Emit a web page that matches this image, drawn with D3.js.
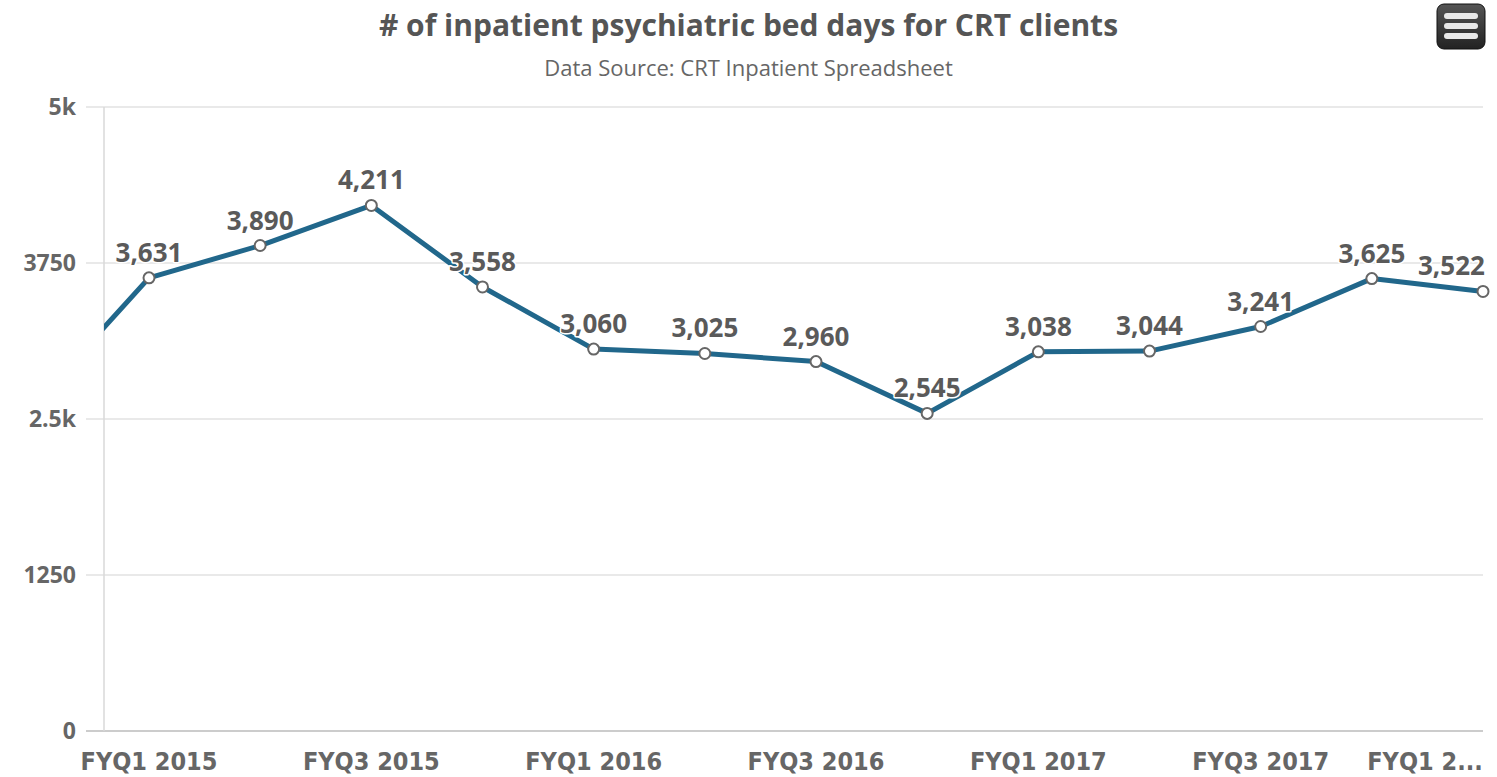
<!DOCTYPE html>
<html>
<head>
<meta charset="utf-8">
<script src="https://cdn.jsdelivr.net/npm/d3@7/dist/d3.min.js"></script>
<style>
  body { margin: 0; background: #fff; }
  .title { font-family: "Open Sans", sans-serif; font-weight: bold; fill: #555; }
  .subtitle { font-family: "Open Sans", sans-serif; fill: #666; }
  .ylab { font-family: "Open Sans", sans-serif; font-weight: bold; fill: #666; font-size: 23px; }
  .xlab { font-family: "Liberation Sans Narrow", "DejaVu Sans Condensed", sans-serif; font-weight: bold; fill: #666; font-size: 25px; }
  .dlabel { font-family: "Open Sans", sans-serif; font-weight: bold; fill: #5a5a5a; font-size: 26px;
            stroke: #fff; stroke-width: 3px; paint-order: stroke; stroke-linejoin: round; }
</style>
</head>
<body>
<div id="chart"></div>
<script>
// quarters; the first one sits left of the visible range (axis min cuts it off)
const quarters = ['FYQ4 2014', 'FYQ1 2015', 'FYQ2 2015', 'FYQ3 2015', 'FYQ4 2015',
  'FYQ1 2016', 'FYQ2 2016', 'FYQ3 2016', 'FYQ4 2016',
  'FYQ1 2017', 'FYQ2 2017', 'FYQ3 2017', 'FYQ4 2017', 'FYQ1 2018'];
const bedDays = [2650, 3631, 3890, 4211, 3558, 3060, 3025, 2960, 2545, 3038, 3044, 3241, 3625, 3522];
const yTicks = [0, 1250, 2500, 3750, 5000];
const yTickLabels = ['0', '1250', '2.5k', '3750', '5k'];

const width = 1497, height = 777;
const plotLeft = 104, plotRight = 1483, plotTop = 107, plotBottom = 731;

const x = d3.scaleLinear().domain([1, quarters.length - 1]).range([149, plotRight]);
const y = d3.scaleLinear().domain([0, 5000]).range([plotBottom, plotTop]);

const svg = d3.select("#chart").append("svg")
  .attr("width", width).attr("height", height);

svg.append("text").attr("class", "title")
  .attr("x", width / 2).attr("y", 36).attr("text-anchor", "middle")
  .style("font-size", "30px")
  .text("# of inpatient psychiatric bed days for CRT clients");

svg.append("text").attr("class", "subtitle")
  .attr("x", width / 2).attr("y", 76).attr("text-anchor", "middle")
  .style("font-size", "22px")
  .text("Data Source: CRT Inpatient Spreadsheet");

// gridlines
svg.append("g").selectAll("line")
  .data(yTicks).enter().append("line")
  .attr("x1", 86).attr("x2", plotRight)
  .attr("y1", d => y(d)).attr("y2", d => y(d))
  .attr("stroke", d => d === 0 ? "#ccc" : "#e2e2e2")
  .attr("stroke-width", d => d === 0 ? 2 : 1.5);

svg.append("line")
  .attr("x1", plotLeft).attr("x2", plotLeft).attr("y1", plotTop).attr("y2", plotBottom)
  .attr("stroke", "#d8d8d8").attr("stroke-width", 1.5);

svg.append("g").selectAll("text")
  .data(yTicks).enter().append("text")
  .attr("class", "ylab")
  .attr("x", 76).attr("y", d => y(d) + 8)
  .attr("text-anchor", "end")
  .text((d, i) => yTickLabels[i]);

// x labels, every second quarter
const shown = quarters.map((q, i) => i).filter(i => i % 2 === 1);
svg.append("g").selectAll("text")
  .data(shown).enter().append("text")
  .attr("class", "xlab")
  .attr("x", i => i === quarters.length - 1 ? 1425 : x(i))
  .attr("y", 770)
  .attr("text-anchor", "middle")
  .text(i => i === quarters.length - 1 ? quarters[i].slice(0, 6) + "..." : quarters[i]);

svg.append("clipPath").attr("id", "plot")
  .append("rect").attr("x", plotLeft).attr("y", 0).attr("width", width - plotLeft).attr("height", height);

const g = svg.append("g").attr("clip-path", "url(#plot)");

const line = d3.line().x((d, i) => x(i)).y(d => y(d));
g.append("path").datum(bedDays)
  .attr("d", line)
  .attr("fill", "none")
  .attr("stroke", "#21678b")
  .attr("stroke-width", 5)
  .attr("stroke-linejoin", "round");

g.selectAll("circle")
  .data(bedDays).enter().append("circle")
  .attr("cx", (d, i) => x(i)).attr("cy", d => y(d))
  .attr("r", 5.5)
  .attr("fill", "#fff").attr("stroke", "#666").attr("stroke-width", 2);

const fmt = d3.format(",");
const labels = svg.append("g").selectAll("text")
  .data(bedDays.map((v, i) => [i, v]).filter(d => d[0] > 0))
  .enter().append("text")
  .attr("class", "dlabel")
  .attr("x", d => x(d[0])).attr("y", d => y(d[1]) - 16)
  .attr("text-anchor", "middle")
  .text(d => fmt(d[1]));

// keep labels inside the chart on the right
labels.each(function () {
  const b = this.getBBox();
  if (b.x + b.width > width - 12) {
    d3.select(this).attr("x", +d3.select(this).attr("x") - (b.x + b.width - (width - 12)));
  }
});

// export menu button
const btn = svg.append("g").attr("transform", "translate(1437,4)");
const grad = svg.append("defs").append("linearGradient").attr("id", "btng")
  .attr("x1", 0).attr("x2", 0).attr("y1", 0).attr("y2", 1);
grad.append("stop").attr("offset", 0).attr("stop-color", "#555");
grad.append("stop").attr("offset", 1).attr("stop-color", "#222");
btn.append("rect").attr("width", 48).attr("height", 45).attr("rx", 7)
  .attr("fill", "url(#btng)").attr("stroke", "#111").attr("stroke-width", 1);
[12, 22, 32].forEach(yy => {
  btn.append("rect").attr("x", 7).attr("y", yy - 3).attr("width", 34).attr("height", 6).attr("rx", 3)
    .attr("fill", "#e8e8e8");
});
</script>
</body>
</html>
